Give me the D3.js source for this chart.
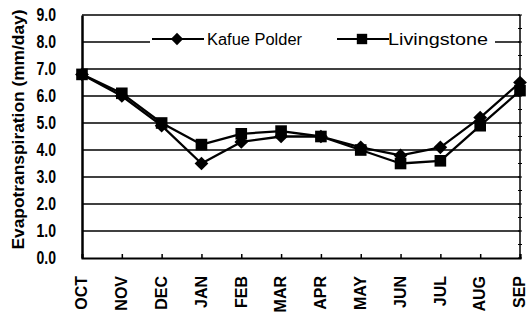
<!DOCTYPE html>
<html>
<head>
<meta charset="utf-8">
<script src="https://cdn.jsdelivr.net/npm/d3@7"></script>
<style>
  html, body { margin: 0; padding: 0; background: #fff; }
  svg { display: block; font-family: "Liberation Sans", Arial, sans-serif; }
</style>
</head>
<body>
<svg id="chart" width="527" height="326"></svg>
<script>
// Monthly evapotranspiration (mm/day), hydrological year Oct–Sep
const months = ["OCT", "NOV", "DEC", "JAN", "FEB", "MAR", "APR", "MAY", "JUN", "JUL", "AUG", "SEP"];
const kafuePolder = [6.8, 6.0, 4.9, 3.5, 4.3, 4.5, 4.5, 4.1, 3.8, 4.1, 5.2, 6.5];
const livingstone = [6.8, 6.1, 5.0, 4.2, 4.6, 4.7, 4.5, 4.0, 3.5, 3.6, 4.9, 6.2];
const yTicks = [0, 1, 2, 3, 4, 5, 6, 7, 8, 9];
const seriesNames = ["Kafue Polder", "Livingstone"];

const svg = d3.select("#chart");
const margin = { left: 82, right: 7, top: 15, bottom: 68 };
const W = 527, H = 326;

const x = d3.scalePoint().domain(months).range([margin.left, W - margin.right]).padding(0);
const y = d3.scaleLinear().domain([0, 9]).range([H - margin.bottom, margin.top]);

// horizontal gridlines (the top one doubles as the frame)
svg.append("g")
  .selectAll("line")
  .data(yTicks.filter(d => d > 0))
  .join("line")
  .attr("x1", margin.left).attr("x2", W - margin.right)
  .attr("y1", d => y(d)).attr("y2", d => y(d))
  .attr("stroke", "#000").attr("stroke-width", 1.3);

// right frame with small ticks
svg.append("line")
  .attr("x1", W - margin.right).attr("x2", W - margin.right)
  .attr("y1", margin.top).attr("y2", y(0))
  .attr("stroke", "#000").attr("stroke-width", 1.5);
svg.append("g")
  .selectAll("line")
  .data(d3.range(0, 9.01, 0.5))
  .join("line")
  .attr("x1", W - margin.right - 2).attr("x2", W - margin.right + 2)
  .attr("y1", d => y(d)).attr("y2", d => y(d))
  .attr("stroke", "#000").attr("stroke-width", 1);

// y axis, labels set in a condensed bold face
const yAxis = svg.append("g")
  .attr("transform", `translate(${margin.left},0)`)
  .call(d3.axisLeft(y).tickValues(yTicks).tickFormat(d3.format(".1f")).tickSize(0).tickPadding(0));
yAxis.select(".domain").attr("stroke", "#000").attr("stroke-width", 2.5);
yAxis.selectAll("text")
  .attr("font-size", 18).attr("font-weight", "bold")
  .attr("font-family", "Liberation Sans, Arial, sans-serif").attr("fill", "#000")
  .attr("x", -26 / 0.78)
  .attr("transform", "scale(0.78,1)");

// x axis
const xAxis = svg.append("g")
  .attr("transform", `translate(0,${y(0)})`)
  .call(d3.axisBottom(x).tickSize(-4).tickPadding(8));
xAxis.select(".domain").attr("stroke", "#000").attr("stroke-width", 2);
xAxis.selectAll(".tick line").attr("stroke", "#000").attr("stroke-width", 1.5);
xAxis.selectAll("text")
  .attr("font-size", 16).attr("font-weight", "bold")
  .attr("font-family", "Liberation Sans, Arial, sans-serif").attr("fill", "#000")
  .attr("transform", "rotate(-90)")
  .attr("text-anchor", "end")
  .attr("x", -18).attr("y", -1).attr("dy", "0.36em");

// y axis title
svg.append("text")
  .attr("transform", `translate(18,${(margin.top + y(0)) / 2 - 7}) rotate(-90)`)
  .attr("text-anchor", "middle")
  .attr("dominant-baseline", "central")
  .attr("font-size", 17).attr("font-weight", "bold")
  .attr("textLength", 240).attr("lengthAdjust", "spacingAndGlyphs")
  .text("Evapotranspiration (mm/day)");

// series lines and markers
const line = d3.line().x((d, i) => x(months[i])).y(d => y(d));
const series = [
  { name: seriesNames[0], values: kafuePolder, symbol: d3.symbolDiamond2, size: 120 },
  { name: seriesNames[1], values: livingstone, symbol: d3.symbolSquare, size: 135 }
];

series.forEach(s => {
  svg.append("path")
    .datum(s.values)
    .attr("d", line)
    .attr("fill", "none").attr("stroke", "#000").attr("stroke-width", 2.3)
    .attr("stroke-linejoin", "round");
});
series.forEach(s => {
  svg.append("g")
    .selectAll("path")
    .data(s.values)
    .join("path")
    .attr("transform", (d, i) => `translate(${x(months[i])},${y(d)})`)
    .attr("d", d3.symbol().type(s.symbol).size(s.size))
    .attr("fill", "#000");
});

// legend across the top band
const legend = svg.append("g");
legend.append("rect")
  .attr("x", 150).attr("y", 30).attr("width", 345).attr("height", 19)
  .attr("fill", "#fff");
const legendItems = [
  { s: series[0], x0: 152, tx: 207, len: 95 },
  { s: series[1], x0: 337, tx: 388, len: 100 }
];
legendItems.forEach(li => {
  const ly = 39;
  legend.append("line")
    .attr("x1", li.x0).attr("x2", li.x0 + 52)
    .attr("y1", ly).attr("y2", ly)
    .attr("stroke", "#000").attr("stroke-width", 1.8);
  legend.append("path")
    .attr("transform", `translate(${li.x0 + 25},${ly})`)
    .attr("d", d3.symbol().type(li.s.symbol).size(li.s.size * 0.8))
    .attr("fill", "#000");
  legend.append("text")
    .attr("x", li.tx).attr("y", ly)
    .attr("dominant-baseline", "central")
    .attr("font-size", 16)
    .attr("textLength", li.len).attr("lengthAdjust", "spacingAndGlyphs")
    .text(li.s.name);
});
</script>
</body>
</html>
